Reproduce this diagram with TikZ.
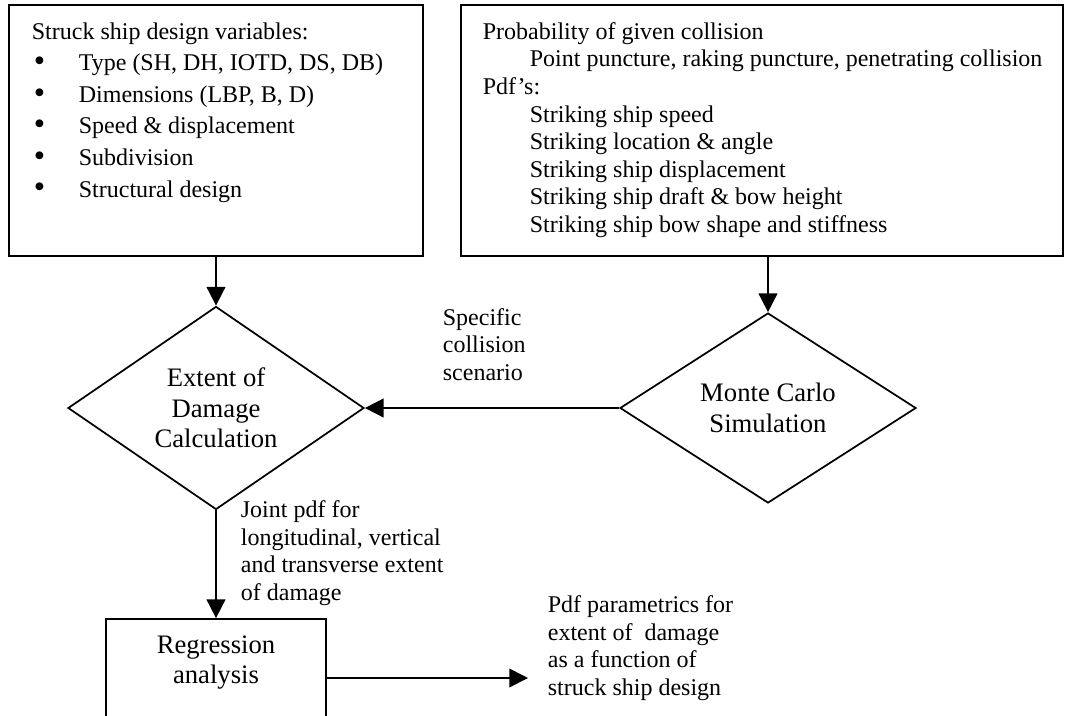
\documentclass[tikz,border=0pt]{standalone}
\usepackage{fontspec}
\setmainfont{Liberation Serif}
\usetikzlibrary{shapes.geometric,arrows.meta}
\tikzset{every picture/.style={line width=1.3pt}}
\newcommand{\bul}{\makebox[35.25pt][l]{\hspace{1.5pt}\raisebox{-0.6pt}{\scalebox{1.35}{\textbullet}}}}
\newcommand{\ind}{\hspace*{35.25pt}}

\begin{document}
\begin{tikzpicture}[x=0.75pt,y=0.75pt,yscale=-1,xscale=1,
  boxframe/.style={draw, rectangle, inner sep=0pt},
  decision/.style={draw, diamond, inner sep=0pt, minimum width=222pt, minimum height=142.5pt, align=center, font=\fontsize{20}{22.9}\selectfont},
  flow/.style={-{Triangle[length=14pt,width=14pt]}},
  txtnote/.style={anchor=north west, inner sep=0pt, align=left, font=\fontsize{18}{20.7}\selectfont}]
\useasboundingbox (0,0) rectangle (1067,715);

%Shape: Rectangle [struck ship design]
\node[boxframe, minimum width=310.5pt, minimum height=188.25pt] (shipbox) at (216,130.5) {};
%Shape: Rectangle [collision pdfs]
\node[boxframe, minimum width=451.5pt, minimum height=188.25pt] (collbox) at (762,130.5) {};
%Shape: Diamond [extent of damage]
\node[decision] (extent) at (216,408) {Extent of\\Damage\\Calculation};
%Shape: Diamond [monte carlo]
\node[decision] (monte) at (768,408) {Monte Carlo\\Simulation};
%Shape: Rectangle [regression]
\node[boxframe, minimum width=165pt, minimum height=88.5pt] (regr) at (216,678) {};
\coordinate (result) at (528,678);

%Straight Lines
\draw[flow] (shipbox.south) -- (extent.north);
\draw[flow] (collbox.south -| monte.north) -- (monte.north);
\draw[flow] (monte.west) -- (extent.east);
\draw[flow] (extent.south) -- (regr.north);
\draw[flow] (regr.east) -- (result);

% Text Node
\node[txtnote, font=\fontsize{18}{23.7}\selectfont] (shipvars) at (31,21.6) {Struck ship design variables:\\
  \bul Type (SH, DH, IOTD, DS, DB)\\
  \bul Dimensions (LBP, B, D)\\
  \bul Speed \& displacement\\
  \bul Subdivision\\
  \bul Structural design};
% Text Node
\node[txtnote] (collvars) at (482,21.6) {Probability of given collision\\
  \ind Point puncture, raking puncture, penetrating collision\\
  Pdf’s:\\
  \ind Striking ship speed\\
  \ind Striking location \& angle\\
  \ind Striking ship displacement\\
  \ind Striking ship draft \& bow height\\
  \ind Striking ship bow shape and stiffness};
% Text Node
\node[txtnote, align=center, anchor=north, font=\fontsize{20}{22.5}\selectfont] (regrtext) at (216,635) {Regression\\analysis};
% Text Node
\node[txtnote] (scenario) at (442,307.6) {Specific\\collision\\scenario};
% Text Node
\node[txtnote] (jointpdf) at (240,500) {Joint pdf for\\longitudinal, vertical\\and transverse extent\\of damage};
% Text Node
\node[txtnote] (pdfparam) at (547,595) {Pdf parametrics for\\extent of~ damage\\as a function of\\struck ship design};

\end{tikzpicture}
\end{document}
